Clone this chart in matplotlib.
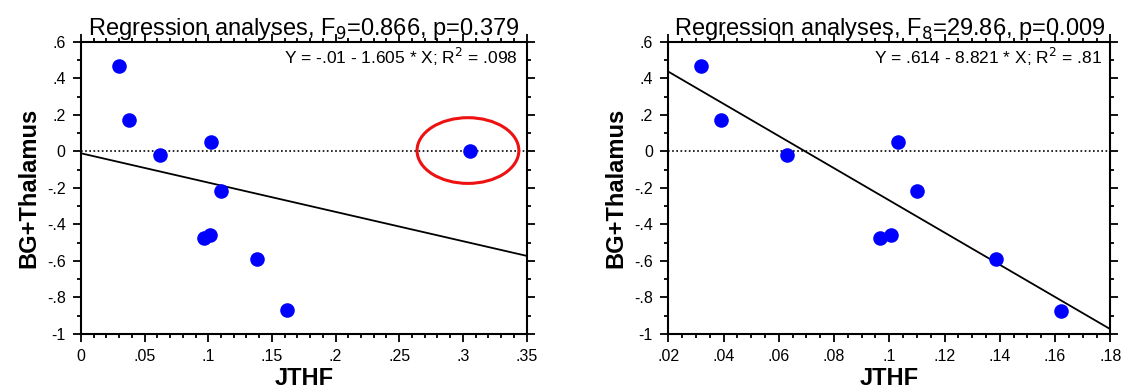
import numpy as np
import matplotlib.pyplot as plt
from matplotlib.patches import Ellipse
from matplotlib.ticker import MultipleLocator, FuncFormatter

plt.rcParams['font.family'] = ['Liberation Sans', 'DejaVu Sans']

# left panel: all subjects
x_all = [0.030, 0.038, 0.062, 0.102, 0.110, 0.097, 0.101, 0.138, 0.162, 0.306]
y_all = [0.47, 0.17, -0.02, 0.05, -0.215, -0.475, -0.455, -0.59, -0.87, 0.005]
fit_all = (-0.01, -1.605)
title_all = 'Regression analyses, F$_9$=0.866, p=0.379'
eq_all = 'Y = -.01 - 1.605 * X; R$^2$ = .098'

# right panel: outlier removed
x_sub = [0.032, 0.039, 0.063, 0.103, 0.110, 0.0965, 0.1005, 0.1385, 0.162]
y_sub = [0.47, 0.17, -0.02, 0.05, -0.215, -0.475, -0.455, -0.59, -0.875]
fit_sub = (0.614, -8.821)
title_sub = 'Regression analyses, F$_8$=29.86, p=0.009'
eq_sub = 'Y = .614 - 8.821 * X; R$^2$ = .81'


def fmt(v, pos):
    s = ('%.2f' % v).rstrip('0').rstrip('.')
    if s.startswith('0.'):
        s = s[1:]
    elif s.startswith('-0.'):
        s = '-' + s[2:]
    if s in ('-0', ''):
        s = '0'
    return s


def panel(ax, x, y, fit, title, eq, xlim, xmaj, xmin):
    ax.scatter(x, y, s=110, color='#0000ff', zorder=3, linewidths=0)
    xs = np.array(xlim)
    ax.plot(xs, fit[0] + fit[1] * xs, color='black', lw=1.3)
    ax.axhline(0, color='black', lw=1.2, ls=(0, (1, 1.5)))
    ax.set_xlim(xlim)
    ax.set_ylim(-1, 0.6)
    ax.xaxis.set_major_locator(MultipleLocator(xmaj))
    ax.xaxis.set_minor_locator(MultipleLocator(xmin))
    ax.yaxis.set_major_locator(MultipleLocator(0.2))
    ax.yaxis.set_minor_locator(MultipleLocator(0.1))
    ax.xaxis.set_major_formatter(FuncFormatter(fmt))
    ax.yaxis.set_major_formatter(FuncFormatter(fmt))
    ax.tick_params(which='both', direction='out', top=True, right=True,
                   labelsize=11.5, width=1.3, pad=5)
    ax.tick_params(which='major', length=6)
    ax.tick_params(which='minor', length=3)
    for sp in ax.spines.values():
        sp.set_linewidth(1.5)
    ax.set_title(title, fontsize=17, pad=1)
    ax.text(0.98, 0.985, eq, transform=ax.transAxes, ha='right', va='top', fontsize=12.5)
    ax.set_xlabel('JTHF', fontsize=17, fontweight='bold', labelpad=2)
    ax.set_ylabel('BG+Thalamus', fontsize=17, fontweight='bold', labelpad=5)


fig = plt.figure(figsize=(11.25, 3.92), dpi=100, facecolor='white')
ax1 = fig.add_axes([0.072, 0.148, 0.396, 0.745])
ax2 = fig.add_axes([0.594, 0.148, 0.393, 0.745])

panel(ax1, x_all, y_all, fit_all, title_all, eq_all, (0, 0.35), 0.05, 0.01)
panel(ax2, x_sub, y_sub, fit_sub, title_sub, eq_sub, (0.02, 0.18), 0.02, 0.005)

ax1.add_patch(Ellipse((0.304, 0.005), 0.08, 0.36, fill=False, edgecolor='#ee1111', lw=2.2, zorder=4))

fig.savefig('out.png', dpi=100)
